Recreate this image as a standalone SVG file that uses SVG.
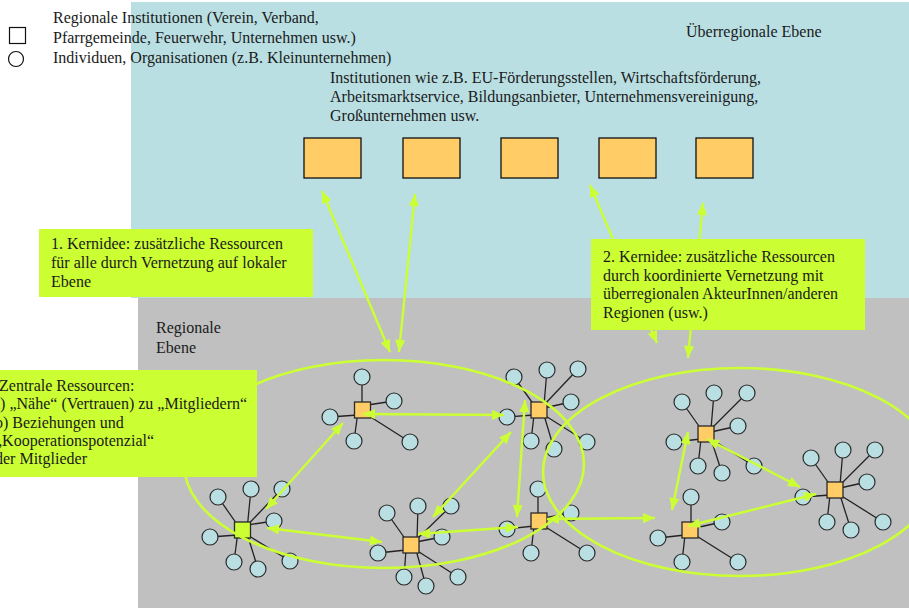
<svg xmlns="http://www.w3.org/2000/svg" width="909" height="608" viewBox="0 0 909 608">
  <defs>
    <style>
      text { font-family: "Liberation Serif", "Times New Roman", serif; font-size: 16px; fill: #1a1a1a; }
      .spoke { stroke: #222; stroke-width: 1.3; }
      .c { fill: #b9dfe3; stroke: #2a2a2a; stroke-width: 1.2; }
      .sq { fill: #ffcc66; stroke: #2a2a2a; stroke-width: 1.3; }
      .sq-hub { fill: #ccff33; stroke: #2a2a2a; stroke-width: 1.3; }
      .inst { fill: #ffcc66; stroke: #111; stroke-width: 1.3; }
      .area { fill: none; stroke: #ccff33; stroke-width: 2.6; }
      .link { fill: none; stroke: #ccff33; stroke-width: 2.4; marker-start: url(#ah); marker-end: url(#ah); }
      .note { fill: #ccff33; }
    </style>
    <marker id="ah" viewBox="0 0 12 10" refX="12" refY="5" markerWidth="13" markerHeight="10" markerUnits="userSpaceOnUse" orient="auto-start-reverse">
      <path d="M0,0 L12,5 L0,10 z" fill="#ccff33"/>
    </marker>
  </defs>

  <!-- background planes -->
  <rect x="0" y="0" width="909" height="608" fill="#ffffff"/>
  <rect id="ebene-ueberregional" x="131" y="2" width="778" height="296" fill="#b9dfe3"/>
  <rect id="ebene-regional" x="138" y="298" width="771" height="310" fill="#c0c0c0"/>

  <!-- legend -->
  <g id="legende">
    <rect x="9.5" y="27.5" width="16" height="16" fill="#fff" stroke="#111" stroke-width="1.2"/>
    <circle cx="16" cy="59" r="7.5" fill="#fff" stroke="#111" stroke-width="1.2"/>
    <text x="53" y="23">Regionale Institutionen (Verein, Verband,</text>
    <text x="53" y="43">Pfarrgemeinde, Feuerwehr, Unternehmen usw.)</text>
    <text x="53" y="63">Individuen, Organisationen (z.B. Kleinunternehmen)</text>
  </g>

  <text x="686" y="37">Überregionale Ebene</text>
  <g id="institutionen-text">
    <text x="330" y="83">Institutionen wie z.B. EU-Förderungsstellen, Wirtschaftsförderung,</text>
    <text x="330" y="102">Arbeitsmarktservice, Bildungsanbieter, Unternehmensvereinigung,</text>
    <text x="330" y="121">Großunternehmen usw.</text>
  </g>
  <text x="156" y="333">Regionale</text>
  <text x="156" y="353">Ebene</text>

  <!-- supra-regional institutions -->
  <g id="inst-1"><rect class="inst" x="304" y="138" width="57" height="40"/></g>
  <g id="inst-2"><rect class="inst" x="403" y="138" width="57" height="40"/></g>
  <g id="inst-3"><rect class="inst" x="501" y="138" width="57" height="40"/></g>
  <g id="inst-4"><rect class="inst" x="599" y="138" width="57" height="40"/></g>
  <g id="inst-5"><rect class="inst" x="696" y="138" width="57" height="40"/></g>

  <!-- regional clusters: hub square with member circles -->
  <g id="cluster-a">
    <line class="spoke" x1="218" y1="497" x2="237.5" y2="525"/>
    <line class="spoke" x1="251" y1="489" x2="247.5" y2="525"/>
    <line class="spoke" x1="282" y1="489" x2="247.5" y2="525"/>
    <line class="spoke" x1="274" y1="521" x2="247.5" y2="525"/>
    <line class="spoke" x1="210" y1="537" x2="237.5" y2="535"/>
    <line class="spoke" x1="234" y1="562" x2="237.5" y2="535"/>
    <line class="spoke" x1="258" y1="569" x2="247.5" y2="535"/>
    <line class="spoke" x1="290" y1="561" x2="247.5" y2="535"/>
    <circle class="c" cx="218" cy="497" r="8"/>
    <circle class="c" cx="251" cy="489" r="8"/>
    <circle class="c" cx="282" cy="489" r="8"/>
    <circle class="c" cx="274" cy="521" r="8"/>
    <circle class="c" cx="210" cy="537" r="8"/>
    <circle class="c" cx="234" cy="562" r="8"/>
    <circle class="c" cx="258" cy="569" r="8"/>
    <circle class="c" cx="290" cy="561" r="8"/>
    <rect class="sq-hub" x="234.5" y="522" width="16" height="16"/>
  </g>

  <g id="cluster-b">
    <line class="spoke" x1="362" y1="377" x2="362" y2="405"/>
    <line class="spoke" x1="394" y1="401" x2="367.5" y2="405"/>
    <line class="spoke" x1="330" y1="417" x2="357.5" y2="415"/>
    <line class="spoke" x1="354" y1="441" x2="357.5" y2="415"/>
    <line class="spoke" x1="410" y1="442" x2="367.5" y2="415"/>
    <circle class="c" cx="362" cy="377" r="8"/>
    <circle class="c" cx="394" cy="401" r="8"/>
    <circle class="c" cx="330" cy="417" r="8"/>
    <circle class="c" cx="354" cy="441" r="8"/>
    <circle class="c" cx="410" cy="442" r="8"/>
    <rect class="sq" x="354.5" y="402" width="16" height="16"/>
  </g>

  <g id="cluster-c">
    <line class="spoke" x1="514" y1="377" x2="534" y2="405"/>
    <line class="spoke" x1="547" y1="370" x2="544" y2="405"/>
    <line class="spoke" x1="578" y1="369" x2="544" y2="405"/>
    <line class="spoke" x1="571" y1="402" x2="544" y2="408"/>
    <line class="spoke" x1="507" y1="417" x2="534" y2="415"/>
    <line class="spoke" x1="531" y1="441" x2="534" y2="415"/>
    <line class="spoke" x1="554" y1="449" x2="544" y2="415"/>
    <line class="spoke" x1="587" y1="442" x2="544" y2="415"/>
    <circle class="c" cx="514" cy="377" r="8"/>
    <circle class="c" cx="547" cy="370" r="8"/>
    <circle class="c" cx="578" cy="369" r="8"/>
    <circle class="c" cx="571" cy="402" r="8"/>
    <circle class="c" cx="507" cy="417" r="8"/>
    <circle class="c" cx="531" cy="441" r="8"/>
    <circle class="c" cx="554" cy="449" r="8"/>
    <circle class="c" cx="587" cy="442" r="8"/>
    <rect class="sq" x="531" y="402" width="16" height="16"/>
  </g>

  <g id="cluster-d">
    <line class="spoke" x1="387" y1="513" x2="406" y2="540"/>
    <line class="spoke" x1="418" y1="506" x2="417" y2="540"/>
    <line class="spoke" x1="451" y1="506" x2="416" y2="540"/>
    <line class="spoke" x1="442" y1="537" x2="416" y2="542"/>
    <line class="spoke" x1="378" y1="553" x2="406" y2="550"/>
    <line class="spoke" x1="404" y1="577" x2="406" y2="550"/>
    <line class="spoke" x1="426" y1="586" x2="416" y2="550"/>
    <line class="spoke" x1="458" y1="577" x2="416" y2="550"/>
    <circle class="c" cx="387" cy="513" r="8"/>
    <circle class="c" cx="418" cy="506" r="8"/>
    <circle class="c" cx="451" cy="506" r="8"/>
    <circle class="c" cx="442" cy="537" r="8"/>
    <circle class="c" cx="378" cy="553" r="8"/>
    <circle class="c" cx="404" cy="577" r="8"/>
    <circle class="c" cx="426" cy="586" r="8"/>
    <circle class="c" cx="458" cy="577" r="8"/>
    <rect class="sq" x="403" y="537" width="16" height="16"/>
  </g>

  <g id="cluster-f">
    <line class="spoke" x1="538" y1="489" x2="538" y2="516"/>
    <line class="spoke" x1="571" y1="513" x2="544" y2="518"/>
    <line class="spoke" x1="507" y1="529" x2="534" y2="526"/>
    <line class="spoke" x1="531" y1="553" x2="534" y2="526"/>
    <line class="spoke" x1="587" y1="553" x2="544" y2="526"/>
    <circle class="c" cx="538" cy="489" r="8"/>
    <circle class="c" cx="571" cy="513" r="8"/>
    <circle class="c" cx="507" cy="529" r="8"/>
    <circle class="c" cx="531" cy="553" r="8"/>
    <circle class="c" cx="587" cy="553" r="8"/>
    <rect class="sq" x="531" y="513" width="16" height="16"/>
  </g>

  <g id="cluster-e">
    <line class="spoke" x1="682" y1="402" x2="701" y2="429"/>
    <line class="spoke" x1="714" y1="393" x2="711" y2="429"/>
    <line class="spoke" x1="747" y1="393" x2="711" y2="429"/>
    <line class="spoke" x1="738" y1="426" x2="711" y2="432"/>
    <line class="spoke" x1="674" y1="442" x2="701" y2="439"/>
    <line class="spoke" x1="698" y1="466" x2="701" y2="439"/>
    <line class="spoke" x1="722" y1="473" x2="711" y2="439"/>
    <line class="spoke" x1="754" y1="466" x2="711" y2="439"/>
    <circle class="c" cx="682" cy="402" r="8"/>
    <circle class="c" cx="714" cy="393" r="8"/>
    <circle class="c" cx="747" cy="393" r="8"/>
    <circle class="c" cx="738" cy="426" r="8"/>
    <circle class="c" cx="674" cy="442" r="8"/>
    <circle class="c" cx="698" cy="466" r="8"/>
    <circle class="c" cx="722" cy="473" r="8"/>
    <circle class="c" cx="754" cy="466" r="8"/>
    <rect class="sq" x="698" y="426" width="16" height="16"/>
  </g>

  <g id="cluster-g">
    <line class="spoke" x1="811" y1="458" x2="830" y2="485"/>
    <line class="spoke" x1="843" y1="450" x2="840" y2="485"/>
    <line class="spoke" x1="875" y1="450" x2="840" y2="485"/>
    <line class="spoke" x1="867" y1="482" x2="840" y2="488"/>
    <line class="spoke" x1="803" y1="497" x2="830" y2="495"/>
    <line class="spoke" x1="827" y1="522" x2="830" y2="495"/>
    <line class="spoke" x1="851" y1="530" x2="840" y2="495"/>
    <line class="spoke" x1="883" y1="522" x2="840" y2="495"/>
    <circle class="c" cx="811" cy="458" r="8"/>
    <circle class="c" cx="843" cy="450" r="8"/>
    <circle class="c" cx="875" cy="450" r="8"/>
    <circle class="c" cx="867" cy="482" r="8"/>
    <circle class="c" cx="803" cy="497" r="8"/>
    <circle class="c" cx="827" cy="522" r="8"/>
    <circle class="c" cx="851" cy="530" r="8"/>
    <circle class="c" cx="883" cy="522" r="8"/>
    <rect class="sq" x="827" y="482" width="16" height="16"/>
  </g>

  <g id="cluster-h">
    <line class="spoke" x1="691" y1="497" x2="691" y2="525"/>
    <line class="spoke" x1="722" y1="522" x2="695" y2="528"/>
    <line class="spoke" x1="658" y1="538" x2="685" y2="535"/>
    <line class="spoke" x1="682" y1="562" x2="685" y2="535"/>
    <line class="spoke" x1="738" y1="562" x2="695" y2="535"/>
    <circle class="c" cx="691" cy="497" r="8"/>
    <circle class="c" cx="722" cy="522" r="8"/>
    <circle class="c" cx="658" cy="538" r="8"/>
    <circle class="c" cx="682" cy="562" r="8"/>
    <circle class="c" cx="738" cy="562" r="8"/>
    <rect class="sq" x="682" y="522" width="16" height="16"/>
  </g>

  <!-- regional network outlines -->
  <g id="regionen">
    <ellipse class="area" cx="384" cy="464" rx="200" ry="104"/>
    <ellipse class="area" cx="740" cy="472" rx="197" ry="104"/>
  </g>

  <!-- connectors -->
  <g id="verbindungen">
    <line class="link" x1="322" y1="191" x2="390" y2="352"/>
    <line class="link" x1="415" y1="194" x2="399" y2="352"/>
    <line class="link" x1="590" y1="185" x2="657" y2="343"/>
    <line class="link" x1="703" y1="203" x2="688" y2="358"/>
    <line class="link" x1="266" y1="509" x2="343" y2="423"/>
    <line class="link" x1="267" y1="528" x2="382" y2="542"/>
    <line class="link" x1="363" y1="414" x2="504" y2="415"/>
    <line class="link" x1="511" y1="432" x2="433" y2="517"/>
    <line class="link" x1="525" y1="400" x2="517" y2="517"/>
    <line class="link" x1="418" y1="534" x2="518" y2="527"/>
    <line class="link" x1="547" y1="519" x2="655" y2="518"/>
    <line class="link" x1="688" y1="432" x2="672" y2="510"/>
    <line class="link" x1="707" y1="439" x2="800" y2="487"/>
    <line class="link" x1="688" y1="526" x2="816" y2="494"/>
  </g>

  <!-- callouts -->
  <g id="kernidee-1">
    <rect class="note" x="39" y="229" width="274" height="68"/>
    <text x="51" y="249">1. Kernidee: zusätzliche Ressourcen</text>
    <text x="51" y="268">für alle durch Vernetzung auf lokaler</text>
    <text x="51" y="287">Ebene</text>
  </g>
  <g id="kernidee-2">
    <rect class="note" x="591" y="239" width="274" height="91"/>
    <text x="603" y="262">2. Kernidee: zusätzliche Ressourcen</text>
    <text x="603" y="281">durch koordinierte Vernetzung mit</text>
    <text x="603" y="299">überregionalen AkteurInnen/anderen</text>
    <text x="603" y="318">Regionen (usw.)</text>
  </g>
  <g id="zentrale-ressourcen">
    <rect class="note" x="-5" y="370" width="262" height="107"/>
    <text x="-1" y="391">Zentrale Ressourcen:</text>
    <text x="-7" y="409">a) „Nähe“ (Vertrauen) zu „Mitgliedern“</text>
    <text x="-5" y="428">b) Beziehungen und</text>
    <text x="-5" y="446">„Kooperationspotenzial“</text>
    <text x="-5" y="464">der Mitglieder</text>
  </g>
</svg>
